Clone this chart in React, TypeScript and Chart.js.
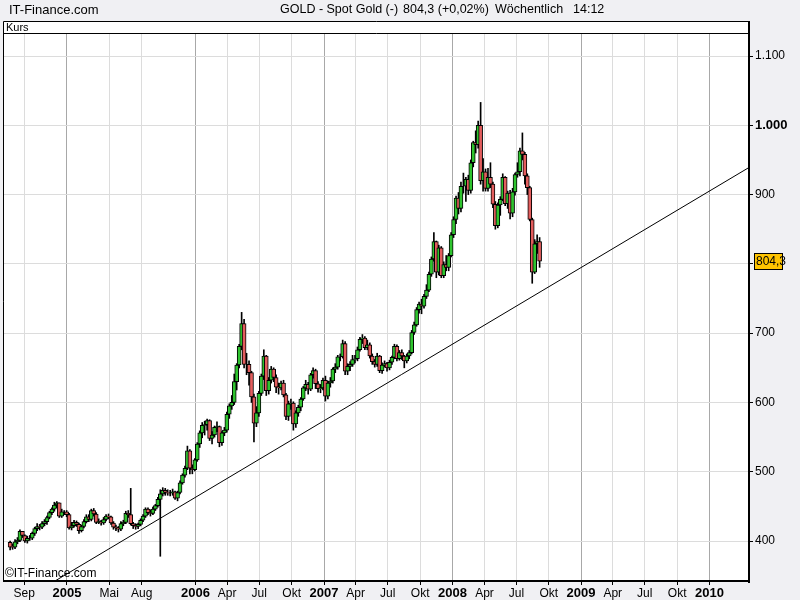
import { useEffect, useRef } from "react"
import { Chart, registerables } from "chart.js"

Chart.register(...registerables)

// weekly candles, first week ends 2004-07-23
const firstWeek = "2004-07-23"

const opens = [
    398, 392, 391, 399, 401, 414, 408, 400, 404, 404, 411, 418, 421, 420, 425, 428, 434, 441, 446, 452, 455, 436, 442, 442,
    438, 419, 422, 427, 424, 415, 421, 428, 435, 431, 444, 439, 427, 428, 426, 431, 436, 435, 426, 420, 419, 417, 425, 427, 440, 438,
    425, 422, 421, 424, 430, 436, 446, 441, 440, 446, 451, 460, 468, 473, 470, 469, 469, 471, 462, 470, 484, 495, 505, 530, 505, 503,
    517, 540, 556, 567, 568, 574, 548, 553, 564, 565, 542, 556, 560, 583, 595, 600, 630, 654, 681, 714, 655, 655, 643, 608, 570, 585,
    613, 638, 667, 617, 632, 648, 636, 622, 621, 628, 611, 580, 598, 599, 569, 585, 593, 605, 621, 626, 619, 640, 646, 627, 620, 621,
    632, 609, 628, 631, 648, 651, 666, 666, 685, 645, 652, 655, 662, 663, 676, 691, 693, 679, 683, 667, 659, 655, 667, 646, 654, 656,
    650, 658, 665, 681, 663, 672, 667, 660, 667, 672, 701, 712, 734, 742, 739, 753, 762, 785, 807, 832, 788, 823, 783, 799, 795, 812,
    842, 864, 895, 880, 912, 912, 922, 906, 946, 975, 972, 1000, 920, 933, 909, 925, 915, 886, 855, 885, 893, 925, 887, 902, 873, 904,
    929, 933, 963, 958, 927, 910, 864, 788, 829, 832,
]
const highs = [
    400, 396, 402, 405, 416, 414, 409, 407, 408, 413, 420, 425, 424, 428, 431, 436, 443, 448, 456, 457, 455, 446, 444, 444,
    440, 427, 430, 429, 426, 423, 431, 438, 438, 446, 447, 441, 432, 430, 434, 438, 439, 436, 428, 423, 421, 428, 430, 443, 444, 476,
    427, 425, 426, 432, 438, 448, 448, 445, 449, 453, 463, 474, 477, 476, 474, 473, 475, 472, 472, 487, 497, 508, 537, 532, 510, 519,
    542, 559, 571, 573, 576, 575, 558, 566, 572, 566, 558, 564, 586, 598, 610, 641, 656, 684, 730, 720, 671, 660, 645, 612, 594, 616,
    641, 676, 668, 636, 652, 650, 640, 628, 631, 632, 613, 602, 605, 601, 588, 596, 607, 623, 632, 629, 642, 650, 648, 630, 626, 635,
    638, 631, 636, 650, 656, 668, 670, 690, 688, 656, 659, 668, 668, 680, 694, 698, 695, 690, 686, 670, 662, 671, 668, 657, 660, 658,
    661, 667, 684, 683, 675, 676, 668, 670, 675, 704, 716, 737, 745, 749, 756, 770, 788, 810, 845, 833, 827, 825, 803, 812, 815, 845,
    868, 898, 903, 918, 931, 925, 928, 950, 977, 992, 1006, 1033, 952, 937, 938, 946, 918, 890, 888, 897, 930, 926, 905, 906, 909, 931,
    946, 967, 989, 961, 930, 912, 866, 835, 842, 838,
]
const lows = [
    387, 388, 389, 396, 399, 405, 398, 397, 401, 402, 408, 415, 416, 418, 422, 424, 432, 438, 443, 448, 434, 434, 438, 435,
    417, 416, 420, 421, 411, 413, 419, 426, 428, 429, 436, 425, 425, 423, 424, 429, 432, 424, 417, 415, 413, 415, 422, 425, 434, 423,
    418, 417, 418, 422, 428, 434, 438, 436, 438, 444, 449, 378, 465, 466, 466, 465, 466, 460, 458, 468, 482, 492, 503, 497, 497, 501,
    515, 535, 549, 553, 560, 545, 540, 550, 558, 536, 538, 552, 557, 577, 590, 597, 618, 650, 676, 650, 640, 625, 600, 543, 565, 580,
    610, 633, 610, 612, 628, 630, 614, 612, 618, 608, 575, 574, 590, 560, 564, 580, 588, 603, 617, 612, 617, 635, 620, 615, 614, 618,
    602, 605, 622, 628, 643, 648, 660, 664, 640, 640, 646, 652, 657, 660, 674, 685, 676, 676, 664, 655, 651, 652, 643, 642, 651, 645,
    647, 655, 663, 660, 661, 662, 650, 657, 663, 670, 698, 710, 729, 728, 736, 750, 760, 782, 804, 780, 784, 780, 780, 790, 790, 810,
    838, 858, 872, 875, 902, 890, 900, 902, 940, 960, 967, 915, 905, 905, 905, 910, 881, 850, 852, 870, 891, 884, 880, 865, 868, 899,
    925, 927, 950, 915, 900, 862, 772, 786, 815, 795,
]
const closes = [
    391, 391, 399, 401, 414, 408, 400, 404, 404, 411, 418, 421, 420, 425, 428, 434, 441, 446, 452, 455, 436, 442, 442, 438,
    419, 422, 427, 424, 415, 421, 428, 435, 431, 444, 439, 427, 428, 426, 431, 436, 435, 426, 420, 419, 417, 425, 427, 440, 438, 425,
    422, 421, 424, 430, 436, 446, 441, 440, 446, 451, 460, 468, 473, 470, 469, 469, 471, 462, 470, 484, 495, 505, 530, 505, 503, 517,
    540, 556, 567, 568, 574, 548, 553, 564, 565, 542, 556, 560, 583, 595, 600, 630, 654, 681, 714, 655, 655, 643, 608, 570, 585, 613,
    638, 667, 617, 632, 648, 636, 622, 621, 628, 611, 580, 598, 599, 569, 585, 593, 605, 621, 626, 619, 640, 646, 627, 620, 621, 632,
    609, 628, 631, 648, 651, 666, 666, 685, 645, 652, 655, 662, 663, 676, 691, 693, 679, 683, 667, 659, 655, 667, 646, 654, 656, 650,
    658, 665, 681, 663, 672, 667, 660, 667, 672, 701, 712, 734, 742, 739, 753, 762, 785, 807, 832, 788, 823, 783, 799, 795, 812, 842,
    864, 895, 880, 912, 912, 922, 906, 946, 975, 972, 1000, 920, 933, 909, 925, 915, 886, 855, 885, 893, 925, 887, 902, 873, 904, 929,
    933, 963, 958, 927, 910, 864, 788, 829, 832, 804,
]

// x-axis ticks (first of month)
const tickMonths = [
    "2004-09", "2005-01", "2005-05", "2005-08", "2006-01", "2006-04", "2006-07", "2006-10",
    "2007-01", "2007-04", "2007-07", "2007-10", "2008-01", "2008-04", "2008-07", "2008-10",
    "2009-01", "2009-04", "2009-07", "2009-10", "2010-01",
]
const tickLabels = [
    "Sep", "2005", "Mai", "Aug", "2006", "Apr", "Jul", "Okt",
    "2007", "Apr", "Jul", "Okt", "2008", "Apr", "Jul", "Okt",
    "2009", "Apr", "Jul", "Okt", "2010",
]
const priceTicks = [400, 500, 600, 700, 800, 900, 1000, 1100]

// trend line end points
const trendDates = ["2004-11-01", "2010-06-01"]
const trendPrices = [334.2, 950.9]

const lastPrice = "804,3"

const FONT = "'Liberation Sans', Arial, sans-serif"
const GREEN = "#2fc42f"
const RED = "#e35d5d"

function decYear(s: string) {
    const d = new Date(s.length === 7 ? s + "-01T00:00:00Z" : s + "T00:00:00Z")
    const y = d.getUTCFullYear()
    const a = Date.UTC(y, 0, 1)
    const b = Date.UTC(y + 1, 0, 1)
    return y + (d.getTime() - a) / (b - a)
}

function weekDate(i: number) {
    const d = new Date(firstWeek + "T00:00:00Z")
    d.setUTCDate(d.getUTCDate() + i * 7)
    return d.toISOString().slice(0, 10)
}

function fmtPrice(v: number) {
    if (v >= 1000) return Math.floor(v / 1000) + "." + String(v % 1000).padStart(3, "0")
    return String(v)
}

const isYear = (i: number) => /^\d{4}$/.test(tickLabels[i] || "")

const framePlugin = {
    id: "frame",
    beforeDraw(chart: any) {
        const { ctx, chartArea: a } = chart
        ctx.save()
        ctx.fillStyle = "#f0f0f3"
        ctx.fillRect(0, 0, chart.width, chart.height)
        ctx.fillStyle = "#fff"
        ctx.fillRect(a.left, 21, a.right - a.left, a.bottom - 21)
        ctx.restore()
    },
    afterDraw(chart: any) {
        const { ctx, chartArea: a } = chart
        ctx.save()
        ctx.strokeStyle = "#000"
        ctx.lineWidth = 1
        ctx.beginPath()
        ctx.moveTo(a.left + 0.5, 21.5)
        ctx.lineTo(a.right, 21.5)
        ctx.moveTo(a.left + 0.5, 33.5)
        ctx.lineTo(a.right, 33.5)
        ctx.moveTo(a.left + 0.5, 21.5)
        ctx.lineTo(a.left + 0.5, a.bottom)
        ctx.stroke()
        ctx.fillStyle = "#000"
        ctx.fillRect(a.right - 1, 21, 2, a.bottom - 19)
        ctx.fillRect(a.left, a.bottom - 1, a.right - a.left + 1, 2)

        ctx.textBaseline = "middle"
        ctx.textAlign = "left"
        ctx.font = "11px " + FONT
        ctx.fillText("Kurs", 6, 28)

        ctx.font = "13px " + FONT
        ctx.fillText("IT-Finance.com", 9, 10)
        ctx.font = "12.5px " + FONT
        ctx.fillText("GOLD - Spot Gold (-)", 280, 10)
        ctx.fillText("804,3 (+0,02%)", 403, 10)
        ctx.fillText("Wöchentlich", 495, 10)
        ctx.fillText("14:12", 573, 10)

        ctx.font = "12px " + FONT
        ctx.fillText("©IT-Finance.com", 5, 574)

        // last price box
        const y = chart.scales.y.getPixelForValue(804.3)
        ctx.fillStyle = "#ffc400"
        ctx.fillRect(754, Math.round(y) - 8, 29, 17)
        ctx.strokeRect(754.5, Math.round(y) - 7.5, 28, 16)
        ctx.fillStyle = "#000"
        ctx.font = "12px " + FONT
        ctx.fillText(lastPrice, 756, Math.round(y) + 1)
        ctx.restore()
    },
}

export default function App() {
    const chartRef = useRef<HTMLCanvasElement>(null)
    const chartInstance = useRef<Chart | null>(null)

    useEffect(() => {
        if (!chartRef.current) return
        const ctx = chartRef.current.getContext("2d")
        if (!ctx) return

        if (chartInstance.current) {
            chartInstance.current.destroy()
        }

        const xs = closes.map((_, i) => decYear(weekDate(i)))
        const tickValues = tickMonths.map(decYear)

        chartInstance.current = new Chart(ctx, {
            type: "bar",
            data: {
                datasets: [
                    {
                        type: "line",
                        data: trendDates.map((d, i) => ({ x: decYear(d), y: trendPrices[i] })),
                        borderColor: "#000",
                        borderWidth: 1,
                        pointRadius: 0,
                        order: 0,
                    } as any,
                    {
                        data: xs.map((x, i) => ({ x, y: [opens[i], closes[i]] })),
                        backgroundColor: closes.map((c, i) => (c >= opens[i] ? GREEN : RED)),
                        borderColor: "#000",
                        borderWidth: 1,
                        borderSkipped: false,
                        barThickness: 4,
                        grouped: false,
                        order: 1,
                    },
                    {
                        data: xs.map((x, i) => ({ x, y: [lows[i], highs[i]] })),
                        backgroundColor: "#000",
                        barThickness: 1,
                        grouped: false,
                        order: 2,
                    },
                ],
            },
            options: {
                responsive: false,
                devicePixelRatio: 1,
                animation: false,
                events: [],
                layout: { padding: { left: 3, top: 33, right: 0, bottom: 0 } },
                plugins: {
                    legend: { display: false },
                    tooltip: { enabled: false },
                },
                scales: {
                    x: {
                        type: "linear",
                        offset: false,
                        min: 2004.502,
                        max: 2010.307,
                        afterBuildTicks: (s: any) => {
                            s.ticks = tickValues.map((v) => ({ value: v }))
                        },
                        afterFit: (s: any) => {
                            s.height = 19
                        },
                        border: { display: false },
                        grid: {
                            offset: false,
                            color: (c: any) => (isYear(c.index) ? "#a8a8a8" : "#dcdcdc"),
                            tickColor: "#000",
                            tickLength: 4,
                        },
                        ticks: {
                            autoSkip: false,
                            maxRotation: 0,
                            padding: 1,
                            color: "#000",
                            font: (c: any) =>
                                isYear(c.index)
                                    ? { family: FONT, size: 13, weight: "bold" }
                                    : { family: FONT, size: 12 },
                            callback: (_v: any, i: number) => tickLabels[i],
                        },
                    },
                    y: {
                        position: "right",
                        min: 342.3,
                        max: 1133.2,
                        afterBuildTicks: (s: any) => {
                            s.ticks = priceTicks.map((v) => ({ value: v }))
                        },
                        afterFit: (s: any) => {
                            s.width = 51
                        },
                        border: { display: false },
                        grid: { color: "#dcdcdc", tickColor: "#000", tickLength: 4 },
                        ticks: {
                            padding: 2,
                            color: "#000",
                            font: (c: any) =>
                                c.tick && c.tick.value === 1000
                                    ? { family: FONT, size: 13, weight: "bold" }
                                    : { family: FONT, size: 12 },
                            callback: (v: any) => fmtPrice(Number(v)),
                        },
                    },
                },
            },
            plugins: [framePlugin],
        })

        return () => {
            if (chartInstance.current) {
                chartInstance.current.destroy()
                chartInstance.current = null
            }
        }
    }, [])

    return (
        <div style={{ position: "fixed", left: 0, top: 0, width: 800, height: 600, background: "#f0f0f3" }}>
            <canvas ref={chartRef} width={800} height={600} style={{ display: "block" }}></canvas>
        </div>
    )
}
